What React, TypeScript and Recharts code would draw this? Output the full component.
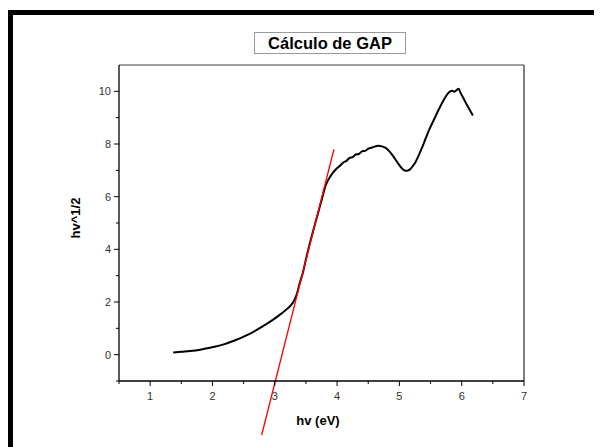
import { LineChart, Line, XAxis, YAxis, ReferenceLine } from "recharts";

const hv = [
  1.37, 1.5, 1.64, 1.8, 1.91, 2.05, 2.18, 2.3, 2.44, 2.58, 2.71, 2.85, 2.98, 3.1, 3.19,
  3.26, 3.3, 3.35, 3.4, 3.45, 3.51, 3.56, 3.62, 3.68, 3.73, 3.78, 3.81, 3.85, 3.89, 3.94,
  3.99, 4.05, 4.1, 4.15, 4.2, 4.25, 4.3, 4.35, 4.4, 4.45, 4.5, 4.55, 4.6, 4.66, 4.72,
  4.78, 4.84, 4.9, 4.96, 5.01, 5.06, 5.1, 5.14, 5.18, 5.22, 5.26, 5.31, 5.36, 5.42, 5.49,
  5.56, 5.63, 5.7, 5.76, 5.81, 5.85, 5.88, 5.92, 5.95, 5.98, 6.03, 6.08, 6.13, 6.18
];
const hvHalf = [
  0.08, 0.11, 0.14, 0.19, 0.24, 0.31, 0.39, 0.49, 0.62, 0.77, 0.94, 1.14, 1.34, 1.55, 1.72,
  1.88, 2.01, 2.27, 2.71, 3.1, 3.72, 4.2, 4.73, 5.25, 5.68, 6.12, 6.38, 6.6, 6.76, 6.93,
  7.06, 7.18, 7.3, 7.36, 7.47, 7.5, 7.6, 7.62, 7.72, 7.74, 7.82, 7.86, 7.9, 7.93, 7.91,
  7.85, 7.72, 7.54, 7.33, 7.16, 7.03, 6.98, 6.99, 7.06, 7.18, 7.32, 7.57, 7.84, 8.2, 8.6,
  8.95, 9.3, 9.62, 9.86, 9.99, 10.02, 9.98, 10.05, 10.1, 9.95, 9.73, 9.5, 9.29, 9.08
];

// reta ajustada (extrapolação do gap)
const fitLine = [
  { x: 2.79, y: -3.05 },
  { x: 3.95, y: 7.8 }
];

const xTicks = [0.5, 1, 1.5, 2, 2.5, 3, 3.5, 4, 4.5, 5, 5.5, 6, 6.5, 7];
const yTicks = [-1, 0, 1, 2, 3, 4, 5, 6, 7, 8, 9, 10];
const yLabels = [0, 2, 4, 6, 8, 10];

const data = hv.map((x, i) => ({ x, y: hvHalf[i] }));

const FONT = "'Liberation Sans', Arial, sans-serif";

function XTick({ x, y, payload }: any) {
  const v = payload.value;
  const major = Number.isInteger(v);
  return (
    <g>
      <line x1={x} x2={x} y1={y} y2={y + (major ? 5 : 3)} stroke="#000" />
      {major && (
        <text x={x} y={y + 19} textAnchor="middle" fontSize={11} fill="#333" fontFamily={FONT}>
          {v}
        </text>
      )}
    </g>
  );
}

function YTick({ x, y, payload }: any) {
  const v = payload.value;
  const major = yLabels.includes(v);
  return (
    <g>
      <line x1={x} x2={x - (major ? 5 : 3)} y1={y} y2={y} stroke="#000" />
      {major && (
        <text x={x - 8} y={y + 4} textAnchor="end" fontSize={11} fill="#333" fontFamily={FONT}>
          {v}
        </text>
      )}
    </g>
  );
}

export default function App() {
  return (
    <div style={{ position: "relative", width: 594, height: 439, overflow: "hidden", background: "#fff", fontFamily: FONT }}>
      <div
        style={{
          position: "absolute",
          left: 0,
          top: 2,
          width: 640,
          height: 480,
          borderTop: "5px solid #000",
          borderLeft: "5px solid #000"
        }}
      />
      <div
        style={{
          position: "absolute",
          left: 246,
          top: 24,
          width: 150,
          height: 20,
          border: "1px solid #999",
          textAlign: "center",
          fontWeight: "bold",
          fontSize: 16.5,
          lineHeight: "20px",
          color: "#000"
        }}
      >
        Cálculo de GAP
      </div>
      <div
        style={{
          position: "absolute",
          left: 310,
          top: 412,
          transform: "translate(-50%, -50%)",
          fontWeight: "bold",
          fontSize: 13,
          whiteSpace: "nowrap"
        }}
      >
        hv (eV)
      </div>
      <div
        style={{
          position: "absolute",
          left: 67,
          top: 210,
          transform: "translate(-50%, -50%) rotate(-90deg)",
          fontWeight: "bold",
          fontSize: 13,
          whiteSpace: "nowrap"
        }}
      >
        hv^1/2
      </div>
      <div style={{ position: "absolute", left: 0, top: 0 }}>
        <LineChart width={594} height={439} data={data} margin={{ top: 57, right: 78, bottom: 36, left: 71 }}>
          <XAxis
            type="number"
            dataKey="x"
            domain={[0.5, 7]}
            ticks={xTicks}
            interval={0}
            allowDataOverflow
            height={30}
            tickSize={0}
            tickMargin={0}
            tickLine={false}
            tick={<XTick />}
            axisLine={{ stroke: "#000", strokeWidth: 1.3 }}
          />
          <YAxis
            type="number"
            domain={[-1, 11]}
            ticks={yTicks}
            interval={0}
            allowDataOverflow
            width={40}
            tickSize={0}
            tickMargin={0}
            tickLine={false}
            tick={<YTick />}
            axisLine={{ stroke: "#000", strokeWidth: 1.3 }}
          />
          <ReferenceLine y={11} stroke="#7f7f7f" strokeWidth={1.5} />
          <ReferenceLine x={7} stroke="#555" strokeWidth={1.5} />
          <Line
            dataKey="y"
            stroke="#000"
            strokeWidth={2}
            dot={false}
            type="monotone"
            isAnimationActive={false}
          />
          <ReferenceLine segment={fitLine} stroke="#ff0000" strokeWidth={1.3} ifOverflow="visible" />
        </LineChart>
      </div>
    </div>
  );
}
